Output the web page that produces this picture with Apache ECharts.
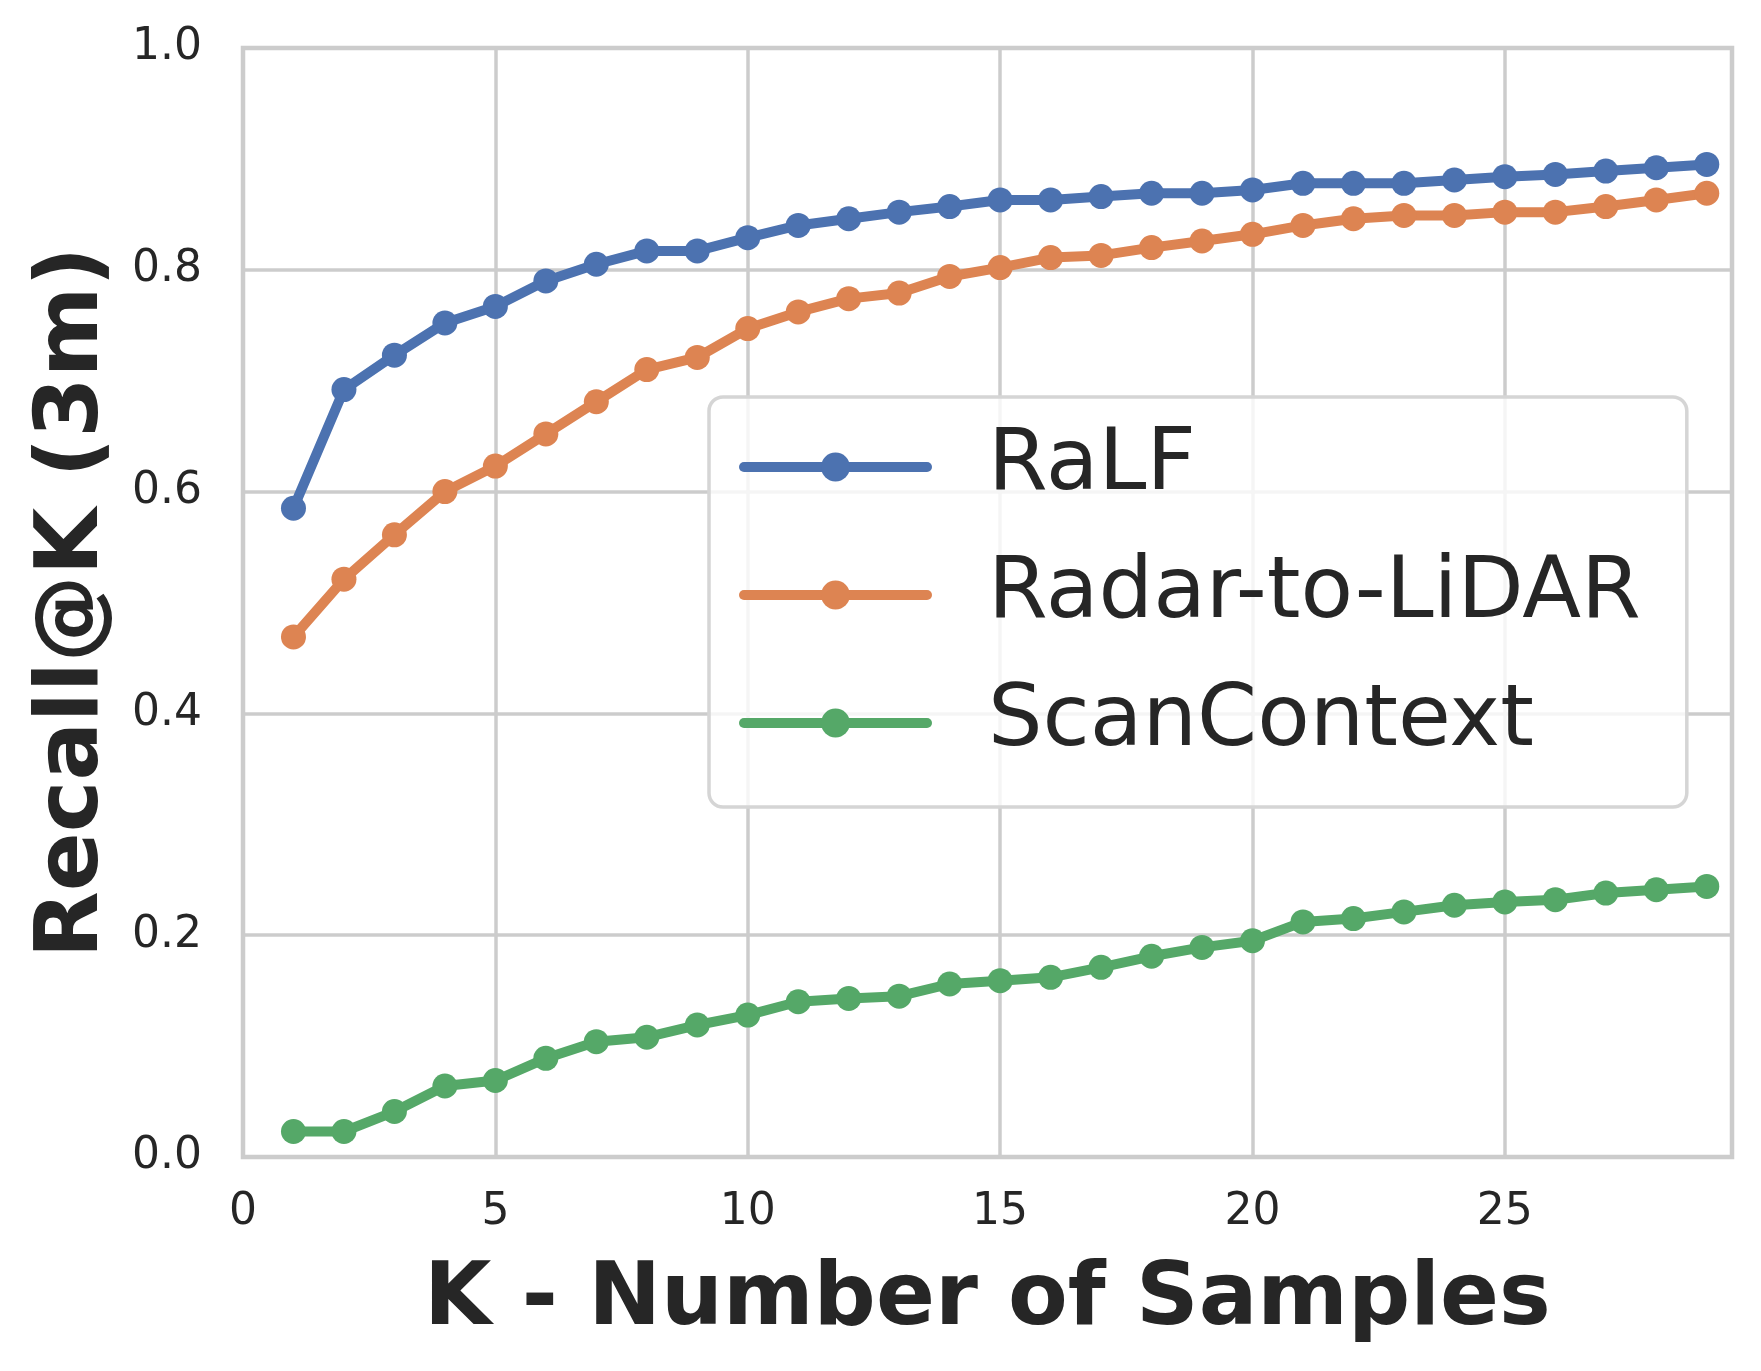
<!DOCTYPE html>
<html>
<head>
<meta charset="utf-8">
<script src="https://cdn.jsdelivr.net/npm/echarts@6/dist/echarts.min.js"></script>
<style>
  html, body { margin: 0; padding: 0; background: #fff; }
  #main { width: 1761px; height: 1371px; }
</style>
</head>
<body>
<div id="main"></div>
<script>
// K values and recall per method
var kValues = [1,2,3,4,5,6,7,8,9,10,11,12,13,14,15,16,17,18,19,20,21,22,23,24,25,26,27,28,29];
var ralf = [0.585,0.692,0.723,0.752,0.767,0.790,0.805,0.817,0.817,0.829,0.840,0.846,0.852,0.857,0.863,
            0.863,0.866,0.869,0.869,0.872,0.878,0.878,0.878,0.881,0.884,0.886,0.889,0.892,0.895];
var radarToLidar = [0.469,0.521,0.561,0.600,0.623,0.652,0.681,0.710,0.721,0.747,0.762,0.774,0.779,0.794,0.802,
                    0.811,0.813,0.820,0.826,0.832,0.840,0.846,0.849,0.849,0.852,0.852,0.857,0.863,0.869];
var scanContext = [0.023,0.023,0.041,0.064,0.069,0.089,0.104,0.108,0.119,0.128,0.140,0.143,0.145,0.156,0.159,
                   0.162,0.171,0.181,0.189,0.195,0.212,0.215,0.221,0.227,0.230,0.232,0.238,0.241,0.244];
var seriesNames = ['RaLF', 'Radar-to-LiDAR', 'ScanContext'];
var colors = ['#4c72b0', '#dd8452', '#55a868'];

function pairs(ys) {
    return kValues.map(function (k, i) { return [k, ys[i]]; });
}

var myChart = echarts.init(document.getElementById('main'));

var textColor = '#262626';
var gridColor = '#cccccc';

myChart.setOption({
    animation: false,
    color: colors,
    grid: {
        left: 243, right: 29, top: 48, bottom: 214,
        show: true, borderColor: gridColor, borderWidth: 4.5, backgroundColor: 'transparent'
    },
    legend: {
        orient: 'vertical',
        left: 709, top: 397,
        padding: [27, 46, 41, 30],
        itemWidth: 183, itemHeight: 36, itemGap: 42,
        backgroundColor: 'rgba(255,255,255,0.8)',
        borderColor: '#d5d5d5', borderWidth: 3.5, borderRadius: 14,
        lineStyle: { width: 10, cap: 'round' },
        textStyle: {
            fontFamily: 'DejaVu Sans', fontSize: 86, color: textColor,
            lineHeight: 86, padding: [0, 0, 0, 56]
        },
        data: seriesNames
    },
    xAxis: {
        type: 'value', min: 0, max: 29.5, interval: 5,
        name: 'K - Number of Samples', nameLocation: 'middle', nameGap: 101,
        nameTextStyle: { fontFamily: 'DejaVu Sans', fontWeight: 'bold', fontSize: 87, color: textColor },
        axisLine: { show: false }, axisTick: { show: false },
        axisLabel: {
            fontFamily: 'DejaVu Sans', fontSize: 44, color: textColor, margin: 34,
            formatter: function (v) { return v % 5 === 0 ? String(v) : ''; }
        },
        splitLine: { show: true, lineStyle: { color: gridColor, width: 3.5 } }
    },
    yAxis: {
        type: 'value', min: 0, max: 1, interval: 0.2,
        name: 'Recall@K (3m)', nameLocation: 'middle', nameGap: 125, nameRotate: 90,
        nameTextStyle: { fontFamily: 'DejaVu Sans', fontWeight: 'bold', fontSize: 87, color: textColor },
        axisLine: { show: false }, axisTick: { show: false },
        axisLabel: {
            fontFamily: 'DejaVu Sans', fontSize: 44, color: textColor, margin: 41,
            formatter: function (v) { return v.toFixed(1); }
        },
        splitLine: { show: true, lineStyle: { color: gridColor, width: 3.5 } }
    },
    series: [ralf, radarToLidar, scanContext].map(function (ys, i) {
        return {
            name: seriesNames[i],
            type: 'line',
            data: pairs(ys),
            symbol: 'circle',
            symbolSize: 25,
            lineStyle: { width: 10, color: colors[i], cap: 'round', join: 'round' },
            itemStyle: { color: colors[i] }
        };
    })
});
</script>
</body>
</html>
